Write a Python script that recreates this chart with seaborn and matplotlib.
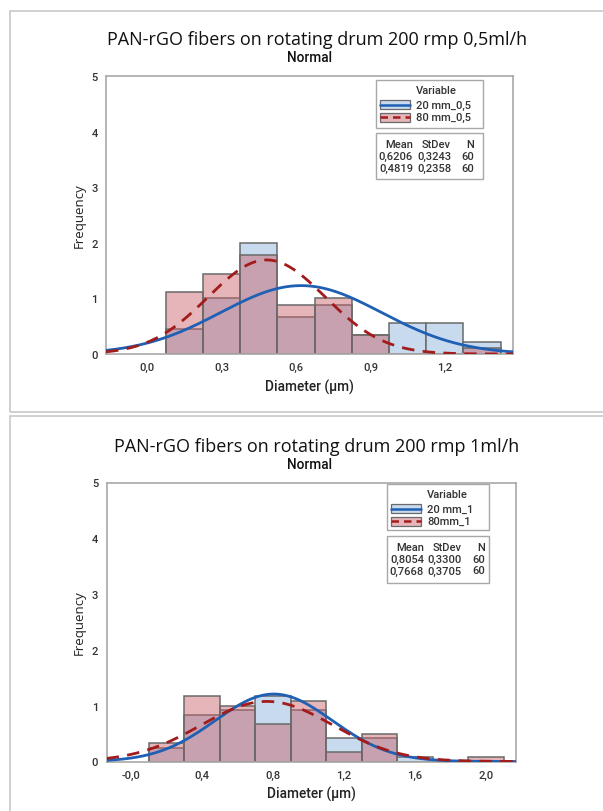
import numpy as np
import pandas as pd
import matplotlib
matplotlib.use("Agg")
import matplotlib.pyplot as plt
import seaborn as sns
from matplotlib.patches import Rectangle
from matplotlib.lines import Line2D

# ---------------------------------------------------------------- data
# upper chart: flow rate 0.5 ml/h, bin width 0.15 µm
top_centers = [0.15, 0.30, 0.45, 0.60, 0.75, 0.90, 1.05, 1.20, 1.35]
top_counts_20 = [4, 9, 18, 6, 8, 3, 5, 5, 2]
top_counts_80 = [10, 13, 16, 8, 9, 3, 0, 0, 1]
top_groups = ["20 mm_0,5", "80 mm_0,5"]
top_mean = [0.6206, 0.4819]
top_sd = [0.3243, 0.2358]
top_n = [60, 60]
top_xticks = [0.0, 0.3, 0.6, 0.9, 1.2]
top_xticklabels = ["0,0", "0,3", "0,6", "0,9", "1,2"]
top_title = "PAN-rGO fibers on rotating drum 200 rmp 0,5ml/h"

# lower chart: flow rate 1 ml/h, bin width 0.2 µm
bot_centers = [0.2, 0.4, 0.6, 0.8, 1.0, 1.2, 1.4, 1.6, 1.8, 2.0]
bot_counts_20 = [3, 10, 11, 14, 11, 5, 5, 1, 0, 0]
bot_counts_80 = [4, 14, 12, 8, 13, 2, 6, 0, 0, 1]
bot_groups = ["20 mm_1", "80mm_1"]
bot_mean = [0.8054, 0.7668]
bot_sd = [0.3300, 0.3705]
bot_n = [60, 60]
bot_xticks = [0.0, 0.4, 0.8, 1.2, 1.6, 2.0]
bot_xticklabels = ["-0,0", "0,4", "0,8", "1,2", "1,6", "2,0"]
bot_title = "PAN-rGO fibers on rotating drum 200 rmp 1ml/h"

yticks = [0, 1, 2, 3, 4, 5]

# ---------------------------------------------------------------- style
sns.set_theme(style="white")
plt.rcParams["font.family"] = ["Open Sans", "DejaVu Sans"]
SMALL_FONT = ["Roboto", "DejaVu Sans"]
SMALL_WEIGHT = "medium"

W, H = 603, 812
BLUE_FILL = (200 / 255, 218 / 255, 238 / 255)
RED_FILL = (200 / 255, 95 / 255, 104 / 255)
RED_ALPHA = 0.46
EDGE = "#6a6a6a"
BLUE_LINE = "#1f5fb4"
RED_LINE = "#a31c1c"
SPINE = "#a8a8a8"
TXT = "#333333"

fig = plt.figure(figsize=(W / 100, H / 100), dpi=100)
fig.patch.set_facecolor("white")


def fx(x):
    return x / W


def fy(y):
    return 1 - y / H


def fbox(x0, y0, x1, y1, ec="#a8a8a8", lw=1.0):
    fig.add_artist(Rectangle((fx(x0), fy(y1)), fx(x1) - fx(x0), fy(y0) - fy(y1),
                             transform=fig.transFigure, fill=False,
                             edgecolor=ec, linewidth=lw))


def small_text(x, y, s, ha="left", size=8):
    fig.text(fx(x), fy(y), s, ha=ha, va="center", fontsize=size,
             fontweight=SMALL_WEIGHT, family=SMALL_FONT, color=TXT)


def panel(ax_rect, centers, c20, c80, groups, means, sds, ns, xlim,
          xticks, xticklabels, title, title_y, leg_box, stats_box):
    ax = fig.add_axes(ax_rect)
    width = centers[1] - centers[0]
    edges = [round(c - width / 2, 4) for c in centers] + [round(centers[-1] + width / 2, 4)]

    df = pd.DataFrame({
        "diameter": list(centers) * 2,
        "count": list(c20) + list(c80),
        "group": [groups[0]] * len(centers) + [groups[1]] * len(centers),
    })

    # first sample: light blue bars (density scale)
    sns.histplot(data=df[df["group"] == groups[0]], x="diameter", weights="count",
                 bins=edges, stat="density", color=BLUE_FILL, alpha=1.0,
                 edgecolor=EDGE, linewidth=1.1, ax=ax)
    n_before = len(ax.patches)
    # second sample: translucent red bars laid over the first
    sns.histplot(data=df[df["group"] == groups[1]], x="diameter", weights="count",
                 bins=edges, stat="density", color=RED_FILL, alpha=1.0,
                 edgecolor=EDGE, linewidth=1.1, ax=ax)
    for p in ax.patches[n_before:]:
        p.set_alpha(None)
        p.set_facecolor((*RED_FILL, RED_ALPHA))
        p.set_edgecolor(EDGE)

    # fitted normal curves from the stated mean / StDev
    xs = np.linspace(xlim[0], xlim[1], 400)
    for m, s, col, ls in [(means[0], sds[0], BLUE_LINE, "-"),
                          (means[1], sds[1], RED_LINE, (0, (4.5, 3)))]:
        ys = np.exp(-0.5 * ((xs - m) / s) ** 2) / (s * np.sqrt(2 * np.pi))
        ax.plot(xs, ys, color=col, lw=2.0, linestyle=ls, zorder=5)

    ax.set_xlim(*xlim)
    ax.set_ylim(0, 5)
    ax.set_xticks(xticks)
    ax.set_xticklabels(xticklabels)
    ax.set_yticks(yticks)
    ax.set_yticklabels([str(t) for t in yticks])
    ax.tick_params(axis="both", direction="out", length=4, width=1, color=SPINE,
                   labelsize=8, labelcolor=TXT, pad=2)
    for lab in ax.get_xticklabels() + ax.get_yticklabels():
        lab.set_fontweight(SMALL_WEIGHT)
        lab.set_family(SMALL_FONT)
    for sp in ax.spines.values():
        sp.set_color(SPINE)
        sp.set_linewidth(1.2)
        sp.set_visible(True)

    ax.set_xlabel("Diameter (µm)", fontsize=9.8, fontweight=SMALL_WEIGHT,
                  family=SMALL_FONT, color="#222222")
    ax.set_ylabel("Frequency", fontsize=9.5, color="#222222")
    ax_h_px = ax_rect[3] * H
    ax_w_px = ax_rect[2] * W
    ax.xaxis.label.set_va("center")
    ax.xaxis.set_label_coords(0.5, -32 / ax_h_px)
    ax.yaxis.label.set_va("center")
    ax.yaxis.set_label_coords(-27 / ax_w_px, 0.5)

    # titles
    fig.text(fx(317), fy(title_y), title, ha="center", va="center",
             fontsize=13, color="#111111")
    fig.text(fx(310), fy(title_y + 18), "Normal", ha="center", va="center",
             fontsize=9.8, fontweight=SMALL_WEIGHT, family=SMALL_FONT, color="#111111")

    # legend box
    lx0, ly0, lx1, ly1 = leg_box
    fbox(lx0, ly0, lx1, ly1)
    small_text(lx0 + 60, ly0 + 10, "Variable", ha="center")
    styles = [(BLUE_FILL, 1.0, BLUE_LINE, "-"), (RED_FILL, RED_ALPHA, RED_LINE, (0, (3, 2)))]
    for i, (g, (fc, a, lc, ls)) in enumerate(zip(groups, styles)):
        yc = ly0 + 24.5 + 12.5 * i
        fig.add_artist(Rectangle((fx(lx0 + 4), fy(yc + 4.5)), fx(30), 9 / H,
                                 transform=fig.transFigure, facecolor=(*fc, a),
                                 edgecolor=EDGE, linewidth=0.9))
        fig.add_artist(Line2D([fx(lx0 + 4), fx(lx0 + 34)], [fy(yc), fy(yc)],
                              transform=fig.transFigure, color=lc, lw=1.8,
                              linestyle=ls))
        small_text(lx0 + 40, yc, g)

    # statistics box
    sx0, sy0, sx1, sy1 = stats_box
    fbox(sx0, sy0, sx1, sy1)
    cols = [sx0 + 37, sx0 + 75, sx0 + 98]
    rows = [["Mean", "StDev", "N"]] + [
        [f"{m:.4f}".replace(".", ","), f"{s:.4f}".replace(".", ","), str(n)]
        for m, s, n in zip(means, sds, ns)]
    for r, row in enumerate(rows):
        for c, txt in enumerate(row):
            small_text(cols[c], sy0 + 11.5 + 11.5 * r, txt, ha="right")
    return ax


# outer panel frames
fbox(10, 12, W + 5, 413, ec="#c8c8c8", lw=1.2)
fbox(10, 417, W + 5, H + 5, ec="#c8c8c8", lw=1.2)

panel([fx(106), fy(355), (513 - 106) / W, (355 - 77) / H],
      top_centers, top_counts_20, top_counts_80, top_groups, top_mean, top_sd, top_n,
      (-0.166, 1.475), top_xticks, top_xticklabels, top_title, 40,
      (376, 81, 483, 129), (376, 134, 483, 180))

panel([fx(106.5), fy(762.5), (515.5 - 106.5) / W, (762.5 - 483.5) / H],
      bot_centers, bot_counts_20, bot_counts_80, bot_groups, bot_mean, bot_sd, bot_n,
      (-0.137, 2.167), bot_xticks, bot_xticklabels, bot_title, 447,
      (387, 485, 489, 531), (387, 537, 489, 584))

fig.savefig("out.png", dpi=100, facecolor="white")
